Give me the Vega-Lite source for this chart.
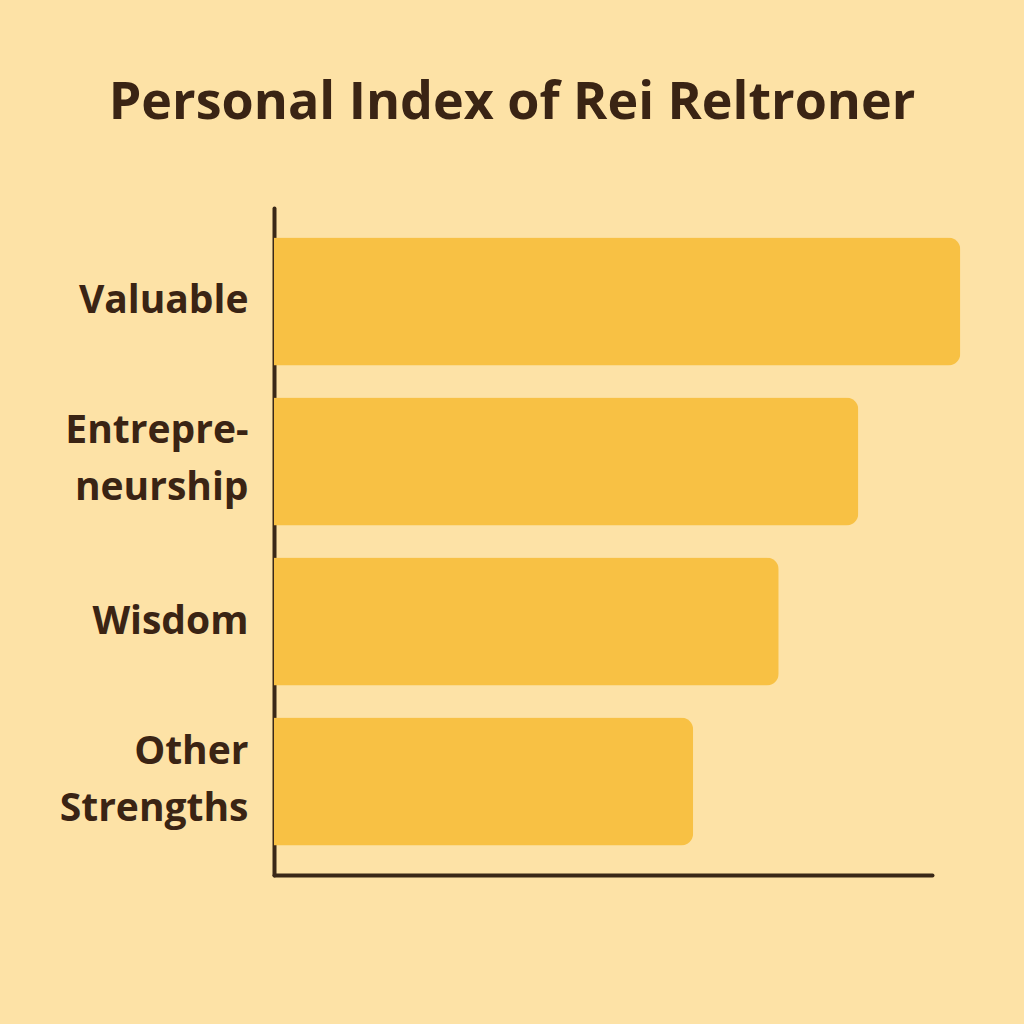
{
  "$schema": "https://vega.github.io/schema/vega-lite/v6.json",
  "autosize": "none",
  "width": 658,
  "height": 667,
  "padding": {"left": 274, "top": 208, "right": 92, "bottom": 149},
  "background": "#FDE2A6",
  "title": {
    "text": "Personal Index of Rei Reltroner",
    "anchor": "middle",
    "dx": -91,
    "offset": 78,
    "font": "Open Sans",
    "fontSize": 52,
    "fontWeight": "bold",
    "color": "#3A2414"
  },
  "data": {
    "values": [
      {"category": "Valuable", "value": 104.3},
      {"category": "Entrepreneurship", "value": 88.8},
      {"category": "Wisdom", "value": 76.7},
      {"category": "Other Strengths", "value": 63.7}
    ]
  },
  "mark": {"type": "bar", "color": "#F8C144", "cornerRadiusEnd": 12, "clip": false},
  "encoding": {
    "y": {
      "field": "category",
      "type": "nominal",
      "sort": null,
      "scale": {"paddingInner": 0.2, "paddingOuter": 0.184},
      "axis": {
        "title": null,
        "domainColor": "#3A2817",
        "domainWidth": 4,
        "domainCap": "round",
        "ticks": false,
        "labelPadding": 26,
        "labelLimit": 0,
        "labelFont": "Open Sans",
        "labelFontSize": 39,
        "labelFontWeight": "bold",
        "labelColor": "#3A2414",
        "labelLineHeight": 57,
        "labelOffset": {"condition": {"test": "datum.value == 'Entrepreneurship' || datum.value == 'Other Strengths'", "value": -30}, "value": 0},
        "labelExpr": "datum.value == 'Entrepreneurship' ? ['Entrepre-','neurship'] : datum.value == 'Other Strengths' ? ['Other','Strengths'] : datum.value"
      }
    },
    "x": {
      "field": "value",
      "type": "quantitative",
      "scale": {"domain": [0, 100]},
      "axis": {
        "title": null,
        "labels": false,
        "ticks": false,
        "grid": false,
        "domainColor": "#3A2817",
        "domainWidth": 4,
        "domainCap": "round"
      }
    }
  },
  "config": {"view": {"stroke": null}}
}
